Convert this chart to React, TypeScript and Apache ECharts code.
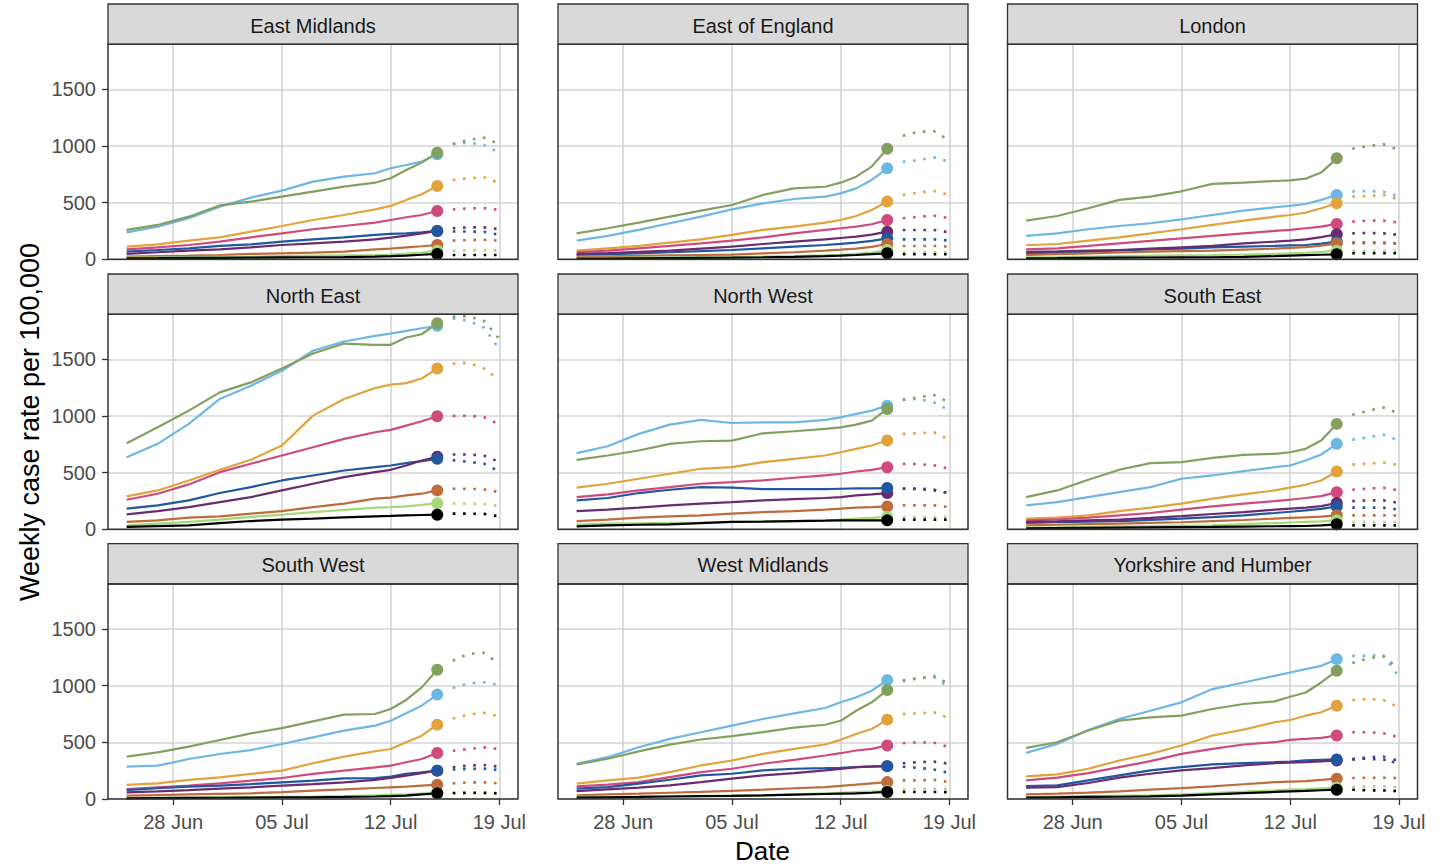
import React, { useEffect, useRef } from 'react';
import * as echarts from 'echarts';

// ---------- data ----------
const REGIONS = [
  'East Midlands', 'East of England', 'London',
  'North East', 'North West', 'South East',
  'South West', 'West Midlands', 'Yorkshire and Humber',
];
const GROUPS = ['Group 1', 'Group 2', 'Group 3', 'Group 4', 'Group 5', 'Group 6', 'Group 7', 'Group 8', 'Group 9'];
const COLORS = ['#6DB7E5', '#83A060', '#E2A33C', '#CF4B7D', '#2157A0', '#6A2B6F', '#BE6C3C', '#A6D878', '#000000'];
// order in which the latest-value points are stacked (last on top)
const POINT_ORDER = [0, 1, 2, 3, 5, 4, 6, 7, 8];

// days relative to 28 Jun
const OBS_DAYS = [-3, -1, 1, 3, 5, 7, 9, 11, 13, 14, 15, 16, 17];
const PROJ_DAYS = [18, 19, 20, 21];
const X_TICK_DAYS = [0, 7, 14, 21];
const X_TICK_LABELS = ['28 Jun', '05 Jul', '12 Jul', '19 Jul'];
const Y_TICKS = [0, 500, 1000, 1500];

// series order: light blue, olive, orange, pink, dark blue, purple, brown, light green, black
const EM_OBS = [
  [238, 288, 362, 465, 544, 606, 685, 729, 759, 803, 832, 862, 926],
  [259, 303, 376, 475, 509, 553, 597, 641, 676, 715, 788, 853, 940],
  [112, 132, 165, 194, 244, 294, 347, 391, 441, 471, 524, 574, 647],
  [88, 106, 126, 156, 194, 229, 265, 294, 324, 347, 371, 391, 426],
  [68, 82, 97, 118, 132, 156, 176, 194, 215, 224, 229, 238, 250],
  [47, 62, 76, 88, 106, 126, 141, 156, 176, 191, 209, 229, 250],
  [24, 28, 32, 38, 47, 53, 59, 68, 88, 95, 105, 115, 126],
  [15, 17, 20, 22, 24, 28, 32, 35, 38, 42, 50, 60, 76],
  [9, 10, 12, 13, 15, 17, 18, 20, 24, 28, 33, 40, 47],
];
const EM_PROJ = [
  [1017, 1029, 1009, 941], [1017, 1053, 1074, 1015], [700, 715, 725, 671], [440, 450, 452, 435],
  [245, 245, 243, 215], [274, 282, 282, 265], [165, 170, 172, 165], [76, 80, 80, 78], [38, 38, 38, 38],
];
const EE_OBS = [
  [165, 206, 259, 318, 376, 441, 494, 532, 553, 582, 626, 700, 803],
  [229, 274, 324, 376, 429, 479, 568, 626, 640, 676, 729, 818, 975],
  [76, 97, 118, 147, 176, 215, 259, 288, 324, 347, 382, 435, 509],
  [62, 76, 97, 118, 141, 165, 194, 229, 259, 274, 288, 309, 347],
  [38, 45, 53, 62, 72, 82, 97, 112, 126, 136, 147, 162, 185],
  [47, 55, 65, 76, 94, 112, 135, 156, 176, 188, 200, 218, 244],
  [24, 27, 30, 34, 38, 42, 53, 62, 76, 85, 95, 110, 135],
  [12, 13, 15, 17, 19, 21, 24, 28, 35, 40, 48, 60, 82],
  [6, 7, 9, 11, 13, 15, 18, 22, 28, 32, 38, 45, 53],
];
const EE_PROJ = [
  [860, 875, 900, 860], [1090, 1125, 1130, 1050], [568, 588, 603, 568], [362, 376, 385, 362],
  [176, 176, 176, 165], [259, 259, 259, 238], [118, 118, 118, 112], [62, 62, 62, 60], [44, 44, 44, 44],
];
const LO_OBS = [
  [206, 229, 265, 294, 318, 353, 391, 429, 459, 471, 488, 524, 568],
  [341, 382, 450, 524, 553, 600, 665, 676, 691, 697, 712, 765, 891],
  [124, 135, 165, 194, 229, 265, 303, 341, 376, 391, 412, 450, 494],
  [88, 97, 118, 141, 162, 185, 206, 229, 250, 259, 274, 288, 312],
  [53, 60, 68, 78, 88, 95, 106, 112, 118, 122, 126, 138, 156],
  [65, 70, 76, 82, 94, 106, 118, 141, 156, 165, 176, 195, 221],
  [38, 45, 52, 60, 68, 72, 76, 85, 94, 100, 108, 120, 141],
  [18, 20, 24, 28, 32, 35, 38, 42, 47, 52, 58, 65, 76],
  [9, 10, 12, 14, 16, 17, 18, 22, 28, 32, 36, 40, 44],
];
const LO_PROJ = [
  [597, 603, 595, 553], [975, 1000, 1015, 965], [553, 559, 568, 529], [332, 341, 341, 324],
  [147, 147, 147, 141], [229, 232, 229, 215], [141, 141, 141, 138], [76, 76, 76, 74], [53, 53, 53, 53],
];
const NE_OBS = [
  [636, 754, 930, 1150, 1267, 1399, 1575, 1657, 1707, 1727, 1751, 1774, 1795],
  [760, 900, 1047, 1208, 1296, 1419, 1551, 1639, 1628, 1628, 1692, 1721, 1818],
  [290, 343, 431, 525, 613, 740, 1003, 1150, 1246, 1276, 1290, 1330, 1419],
  [261, 314, 396, 504, 578, 651, 724, 798, 856, 877, 915, 953, 997],
  [182, 211, 255, 320, 372, 431, 475, 519, 548, 563, 584, 601, 622],
  [132, 161, 196, 240, 284, 343, 402, 460, 504, 525, 563, 607, 640],
  [65, 79, 103, 114, 138, 161, 196, 226, 270, 279, 299, 314, 343],
  [35, 50, 65, 85, 109, 130, 152, 172, 191, 196, 202, 215, 230],
  [21, 28, 35, 55, 73, 85, 94, 105, 114, 118, 123, 126, 129],
];
const NE_PROJ = [
  [1860, 1840, 1780, 1590], [1875, 1880, 1840, 1680], [1460, 1470, 1420, 1320], [1000, 1003, 990, 925],
  [610, 595, 580, 510], [660, 660, 650, 595], [358, 358, 352, 328], [228, 225, 222, 205], [138, 138, 136, 114],
];
const NW_OBS = [
  [672, 733, 842, 924, 965, 938, 944, 944, 965, 988, 1018, 1047, 1091],
  [613, 651, 695, 754, 777, 783, 847, 865, 886, 900, 924, 959, 1062],
  [367, 402, 446, 490, 534, 548, 592, 622, 651, 680, 710, 739, 783],
  [284, 308, 343, 372, 402, 416, 431, 455, 475, 490, 510, 525, 548],
  [255, 276, 320, 349, 372, 367, 355, 355, 355, 358, 361, 361, 364],
  [161, 173, 191, 211, 226, 240, 255, 267, 276, 284, 299, 308, 320],
  [73, 85, 103, 114, 123, 138, 152, 161, 173, 182, 191, 196, 202],
  [44, 50, 53, 56, 60, 65, 69, 73, 80, 85, 94, 100, 109],
  [26, 35, 40, 44, 55, 65, 68, 73, 76, 78, 79, 79, 79],
];
const NW_PROJ = [
  [1145, 1150, 1120, 1050], [1140, 1165, 1185, 1120], [842, 847, 856, 789], [578, 575, 565, 534],
  [358, 355, 345, 320], [360, 360, 350, 315], [211, 211, 211, 196], [109, 109, 109, 108], [85, 85, 85, 85],
];
const SE_OBS = [
  [211, 240, 284, 328, 372, 446, 475, 513, 548, 563, 607, 660, 754],
  [284, 343, 437, 525, 584, 592, 630, 657, 666, 680, 710, 783, 930],
  [94, 103, 123, 161, 191, 226, 270, 308, 343, 367, 393, 431, 510],
  [79, 88, 103, 123, 144, 173, 202, 226, 249, 261, 276, 293, 328],
  [56, 62, 68, 73, 84, 94, 108, 123, 144, 155, 167, 180, 202],
  [65, 70, 78, 85, 100, 117, 135, 152, 173, 182, 191, 205, 232],
  [35, 40, 46, 50, 56, 62, 73, 82, 94, 100, 106, 112, 123],
  [15, 18, 22, 25, 28, 32, 35, 45, 55, 60, 65, 70, 79],
  [9, 11, 13, 15, 17, 19, 21, 24, 27, 28, 29, 35, 44],
];
const SE_PROJ = [
  [790, 812, 835, 783], [1010, 1045, 1075, 1023], [572, 578, 587, 569], [349, 358, 367, 343],
  [191, 191, 191, 173], [249, 255, 255, 232], [123, 123, 123, 123], [65, 65, 65, 65], [35, 35, 35, 35],
];
const SW_OBS = [
  [285, 294, 353, 397, 432, 485, 544, 603, 647, 691, 756, 824, 921],
  [374, 412, 462, 521, 579, 626, 685, 744, 750, 794, 874, 985, 1141],
  [124, 138, 168, 191, 221, 250, 315, 374, 421, 441, 500, 559, 656],
  [88, 103, 118, 138, 162, 185, 221, 250, 279, 294, 324, 353, 406],
  [79, 95, 109, 118, 132, 147, 162, 182, 185, 197, 221, 235, 250],
  [59, 68, 79, 92, 103, 118, 132, 147, 168, 185, 206, 228, 250],
  [29, 35, 40, 45, 50, 60, 74, 85, 97, 103, 109, 118, 126],
  [9, 11, 13, 15, 17, 19, 21, 25, 32, 38, 42, 48, 53],
  [6, 8, 10, 11, 13, 14, 15, 18, 22, 25, 29, 40, 50],
];
const SW_PROJ = [
  [980, 1020, 1030, 1005], [1220, 1280, 1290, 1190], [710, 745, 760, 730], [426, 441, 456, 441],
  [260, 265, 268, 255], [280, 295, 300, 285], [138, 147, 147, 138], [50, 50, 50, 48], [53, 55, 55, 50],
];
const WM_OBS = [
  [311, 369, 457, 530, 589, 648, 706, 756, 803, 853, 897, 955, 1049],
  [305, 355, 420, 480, 525, 555, 590, 630, 655, 690, 779, 853, 961],
  [135, 164, 188, 237, 296, 340, 398, 442, 481, 522, 574, 618, 700],
  [111, 126, 149, 193, 237, 267, 311, 346, 384, 404, 428, 442, 472],
  [91, 105, 135, 170, 208, 223, 252, 267, 272, 275, 281, 287, 290],
  [70, 85, 100, 120, 149, 179, 208, 229, 252, 265, 281, 285, 290],
  [32, 40, 47, 55, 62, 72, 82, 95, 105, 115, 126, 138, 149],
  [18, 20, 22, 25, 28, 30, 32, 40, 50, 55, 60, 65, 70],
  [12, 15, 18, 22, 25, 28, 32, 38, 44, 47, 50, 55, 62],
];
const WM_PROJ = [
  [1050, 1065, 1075, 985], [1040, 1065, 1085, 1015], [750, 756, 765, 712], [492, 501, 497, 457],
  [285, 275, 260, 230], [316, 325, 330, 311], [164, 164, 170, 149], [82, 91, 91, 91], [62, 62, 62, 60],
];
const YH_OBS = [
  [407, 486, 609, 706, 779, 853, 970, 1028, 1087, 1116, 1146, 1175, 1234],
  [451, 501, 604, 691, 721, 735, 794, 838, 861, 902, 940, 1028, 1131],
  [199, 217, 267, 340, 398, 472, 560, 612, 677, 697, 735, 765, 823],
  [164, 188, 229, 281, 334, 398, 442, 481, 501, 522, 530, 539, 560],
  [114, 120, 164, 208, 252, 281, 305, 316, 325, 331, 340, 346, 349],
  [100, 105, 141, 188, 223, 252, 272, 296, 316, 320, 325, 332, 340],
  [41, 48, 56, 68, 82, 96, 111, 130, 149, 154, 158, 168, 179],
  [18, 22, 26, 29, 32, 40, 53, 65, 76, 82, 88, 94, 100],
  [12, 15, 18, 20, 23, 30, 41, 52, 62, 68, 72, 77, 82],
];
const YH_PROJ = [
  [1263, 1263, 1269, 1080], [1200, 1240, 1260, 1150], [873, 882, 873, 809], [589, 589, 580, 545],
  [346, 369, 375, 296], [355, 355, 346, 346], [185, 188, 188, 185], [105, 111, 111, 105], [82, 76, 76, 70],
];

const OBS_BY_REGION = [EM_OBS, EE_OBS, LO_OBS, NE_OBS, NW_OBS, SE_OBS, SW_OBS, WM_OBS, YH_OBS];
const PROJ_BY_REGION = [EM_PROJ, EE_PROJ, LO_PROJ, NE_PROJ, NW_PROJ, SE_PROJ, SW_PROJ, WM_PROJ, YH_PROJ];

// ---------- layout ----------
const COL_LEFT = [108, 558, 1007.5];
const ROW_TOP = [44.3, 314.3, 584];
const PANEL_W = 410;
const PANEL_H = 215;
const STRIP_H = 40.3;
const FONT = 'Liberation Sans, Arial, Helvetica, sans-serif';

function buildOption() {
  const grids: any[] = [];
  const xAxes: any[] = [];
  const yAxes: any[] = [];
  const series: any[] = [];
  const graphics: any[] = [];

  REGIONS.forEach((region, i) => {
    const r = Math.floor(i / 3);
    const c = i % 3;
    const left = COL_LEFT[c];
    const top = ROW_TOP[r];
    grids.push({ left, top, width: PANEL_W, height: PANEL_H, show: false });
    xAxes.push({
      type: 'value', gridIndex: i, min: -4.2, max: 22.2, position: 'bottom',
      axisLine: { show: false, onZero: false },
      axisTick: { show: r === 2, customValues: X_TICK_DAYS, length: 6, lineStyle: { color: '#333333', width: 1.3 } },
      axisLabel: {
        show: r === 2, customValues: X_TICK_DAYS, margin: 13, fontSize: 20, color: '#4D4D4D', fontFamily: FONT,
        formatter: (v: number) => { const k = X_TICK_DAYS.indexOf(v); return k >= 0 ? X_TICK_LABELS[k] : ''; },
      },
      splitLine: { show: true, lineStyle: { color: '#D4D4D4', width: 1.6 } },
    });
    yAxes.push({
      type: 'value', gridIndex: i, min: 0, max: 1897, position: 'left',
      axisLine: { show: false, onZero: false },
      axisTick: { show: c === 0, customValues: Y_TICKS, length: 6, lineStyle: { color: '#333333', width: 1.3 } },
      axisLabel: {
        show: c === 0, customValues: Y_TICKS, margin: 12, fontSize: 20, color: '#4D4D4D', fontFamily: FONT,
        formatter: (v: number) => String(v),
      },
      splitLine: { show: true, lineStyle: { color: '#D4D4D4', width: 1.6 } },
    });

    const obs = OBS_BY_REGION[i];
    const proj = PROJ_BY_REGION[i];
    GROUPS.forEach((g, s) => {
      series.push({
        type: 'line', name: `${region} ${g}`, xAxisIndex: i, yAxisIndex: i,
        data: OBS_DAYS.map((d, k) => [d, obs[s][k]]),
        symbol: 'none', silent: true, z: 2,
        lineStyle: { color: COLORS[s], width: 2.2 },
      });
      series.push({
        type: 'line', name: `${region} ${g} projection`, xAxisIndex: i, yAxisIndex: i,
        data: PROJ_DAYS.map((d, k) => [d, proj[s][k]]),
        symbol: 'none', silent: true, z: 2,
        lineStyle: { color: COLORS[s], width: 2.6, type: [2.6, 7.7], cap: 'butt' },
      });
    });
    series.push({
      type: 'scatter', name: `${region} latest`, xAxisIndex: i, yAxisIndex: i,
      symbolSize: 12, silent: true, z: 3,
      data: POINT_ORDER.map((s) => ({
        value: [OBS_DAYS[OBS_DAYS.length - 1], obs[s][obs[s].length - 1]],
        itemStyle: { color: COLORS[s], opacity: 1 },
      })),
    });

    // strip
    graphics.push({
      type: 'rect', z: 100,
      shape: { x: left, y: top - STRIP_H, width: PANEL_W, height: STRIP_H },
      style: { fill: '#D9D9D9', stroke: '#333333', lineWidth: 1.3 },
    });
    graphics.push({
      type: 'text', z: 101, x: left + PANEL_W / 2, y: top - STRIP_H / 2 + 1.5,
      style: {
        text: region, fill: '#1A1A1A', fontSize: 20, fontFamily: FONT,
        align: 'center', verticalAlign: 'middle', textAlign: 'center', textVerticalAlign: 'middle',
      },
    });
    // panel border
    graphics.push({
      type: 'rect', z: 100,
      shape: { x: left, y: top, width: PANEL_W, height: PANEL_H },
      style: { fill: 'none', stroke: '#333333', lineWidth: 1.5 },
    });
  });

  graphics.push({
    type: 'text', z: 101, x: 30, y: 422, rotation: Math.PI / 2,
    style: {
      text: 'Weekly case rate per 100,000', fill: '#000000', fontSize: 27, fontFamily: FONT,
      align: 'center', verticalAlign: 'middle', textAlign: 'center', textVerticalAlign: 'middle',
    },
  });
  graphics.push({
    type: 'text', z: 101, x: 762.5, y: 851,
    style: {
      text: 'Date', fill: '#000000', fontSize: 26, fontFamily: FONT,
      align: 'center', verticalAlign: 'middle', textAlign: 'center', textVerticalAlign: 'middle',
    },
  });

  return {
    animation: false,
    backgroundColor: '#FFFFFF',
    grid: grids,
    xAxis: xAxes,
    yAxis: yAxes,
    series,
    graphic: { elements: graphics },
  };
}

export default function App() {
  const ref = useRef<HTMLDivElement>(null);
  useEffect(() => {
    if (!ref.current) return;
    const chart = echarts.init(ref.current, null, { renderer: 'svg' });
    chart.setOption(buildOption() as any);
    return () => chart.dispose();
  }, []);
  return (
    <div
      ref={ref}
      style={{ position: 'fixed', left: 0, top: 0, width: 1453, height: 866, background: '#FFFFFF' }}
    />
  );
}
